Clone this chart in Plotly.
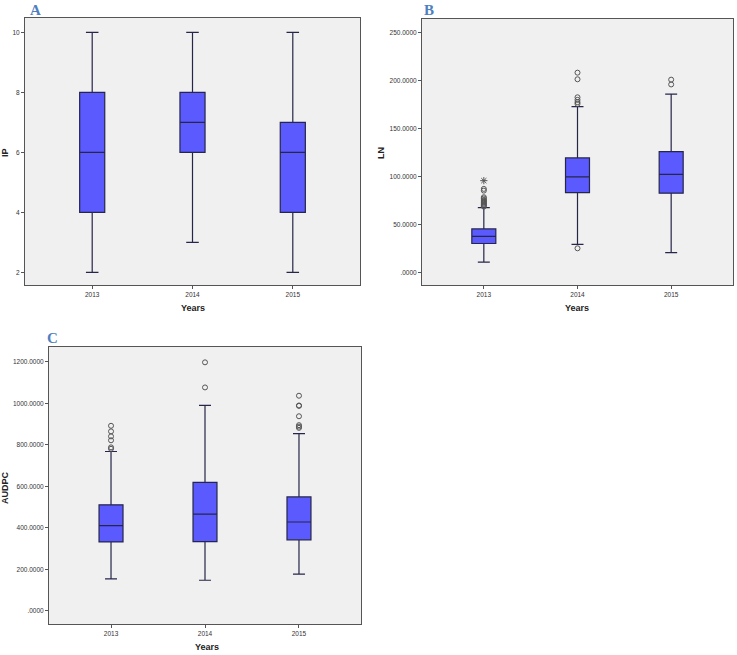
import plotly.graph_objects as go

W, H = 737, 655

years = ["2013", "2014", "2015"]

# Panel A: IP
ip_low = [2, 3, 2]
ip_q1 = [4, 6, 4]
ip_med = [6, 7, 6]
ip_q3 = [8, 8, 7]
ip_high = [10, 10, 10]

# Panel B: LN
ln_low = [10.6, 29.2, 20.5]
ln_q1 = [30.0, 83.1, 82.5]
ln_med = [37.4, 99.5, 102.1]
ln_q3 = [45.2, 119.3, 125.8]
ln_high = [67.4, 172.9, 185.8]
ln_out_x = ["2013"] * 12 + ["2014"] * 7 + ["2015"] * 2
ln_out_y = [68.5, 69.5, 70.5, 71.5, 72.5, 73.5, 74.5, 75.5, 77.0, 78.3, 85.2, 87.0,
            25.0, 175.7, 177.5, 179.9, 182.6, 201.4, 208.3,
            196.0, 201.0]
ln_ext_x = ["2013"]
ln_ext_y = [95.6]

# Panel C: AUDPC
au_low = [154, 147, 177]
au_q1 = [332, 333, 342]
au_med = [410, 466, 428]
au_q3 = [511, 619, 549]
au_high = [768, 990, 854]
au_out_x = ["2013"] * 6 + ["2014"] * 2 + ["2015"] * 7
au_out_y = [781, 788, 822, 841, 865, 892,
            1077, 1198,
            882, 888, 895, 938, 988, 990, 1037]

ln_ticks = [0, 50, 100, 150, 200, 250]
ln_ticktext = [".0000", "50.0000", "100.0000", "150.0000", "200.0000", "250.0000"]
au_ticks = [0, 200, 400, 600, 800, 1000, 1200]
au_ticktext = [".0000", "200.0000", "400.0000", "600.0000", "800.0000", "1000.0000", "1200.0000"]
ip_ticks = [2, 4, 6, 8, 10]
ip_ticktext = ["2", "4", "6", "8", "10"]

FILL = "#5a5aff"
LINE = "#26264a"
OUT = "#555555"

fig = go.Figure()

def add_box(ax, low, q1, med, q3, high, width):
    fig.add_trace(go.Box(
        x=years, q1=q1, median=med, q3=q3, lowerfence=low, upperfence=high,
        width=width, whiskerwidth=0.5, fillcolor=FILL,
        line=dict(color=LINE, width=1.2), boxpoints=False,
        xaxis="x" + ax, yaxis="y" + ax, showlegend=False, hoverinfo="skip",
    ))

add_box("", ip_low, ip_q1, ip_med, ip_q3, ip_high, 0.25)
add_box("2", ln_low, ln_q1, ln_med, ln_q3, ln_high, 0.256)
add_box("3", au_low, au_q1, au_med, au_q3, au_high, 0.255)

def add_out(ax, xs, ys, symbol="circle-open", size=5):
    fig.add_trace(go.Scatter(
        x=xs, y=ys, mode="markers",
        marker=dict(symbol=symbol, size=size, color=OUT, line=dict(color=OUT, width=1)),
        xaxis="x" + ax, yaxis="y" + ax, showlegend=False, hoverinfo="skip",
    ))

add_out("2", ln_out_x, ln_out_y)
add_out("2", ln_ext_x, ln_ext_y, symbol="asterisk-open", size=6)
add_out("3", au_out_x, au_out_y)

def px_x(a, b):
    return [a / W, b / W]

def px_y(top, bottom):
    return [1 - bottom / H, 1 - top / H]

tickfont = dict(family="Liberation Sans, Arial, sans-serif", size=6.5, color="#333333")
axis_common = dict(showline=True, linecolor="#555555", linewidth=1, mirror=True,
                   ticks="outside", ticklen=3, tickcolor="#555555", showgrid=False,
                   zeroline=False, tickfont=tickfont)

fig.update_layout(
    width=W, height=H,
    margin=dict(l=0, r=0, t=0, b=0),
    paper_bgcolor="white",
    plot_bgcolor="#f0f0f0",
    xaxis=dict(domain=px_x(25, 360), anchor="y", type="category",
               categoryorder="array", categoryarray=years, range=[-0.67, 2.67], **axis_common),
    yaxis=dict(domain=px_y(18, 285), anchor="x", range=[1.58, 10.48],
               tickvals=ip_ticks, ticktext=ip_ticktext, **axis_common),
    xaxis2=dict(domain=px_x(422, 733), anchor="y2", type="category",
                categoryorder="array", categoryarray=years, range=[-0.66, 2.66], **axis_common),
    yaxis2=dict(domain=px_y(19, 285), anchor="x2", range=[-13.3, 264.3],
                tickvals=ln_ticks, ticktext=ln_ticktext, **axis_common),
    xaxis3=dict(domain=px_x(49, 361), anchor="y3", type="category",
                categoryorder="array", categoryarray=years, range=[-0.66, 2.66], **axis_common),
    yaxis3=dict(domain=px_y(347, 624), anchor="x3", range=[-64, 1272],
                tickvals=au_ticks, ticktext=au_ticktext, **axis_common),
)

titlefont = dict(family="Liberation Sans, Arial, sans-serif", size=9, color="#222222")
labelfont = dict(family="Liberation Serif, Times New Roman, serif", size=15, color="#4f7fc0")

def ann(text, x, y, font, angle=0, yanchor="middle"):
    fig.add_annotation(text=text, x=x / W, y=1 - y / H, xref="paper", yref="paper",
                       showarrow=False, font=font, textangle=angle,
                       xanchor="center", yanchor=yanchor)

ann("<b>Years</b>", 193, 308, titlefont)
ann("<b>Years</b>", 577, 308, titlefont)
ann("<b>Years</b>", 207, 647, titlefont)
ann("<b>IP</b>", 5, 153, titlefont, -90)
ann("<b>LN</b>", 381, 153, titlefont, -90)
ann("<b>AUDPC</b>", 5, 488, titlefont, -90)
ann("<b>A</b>", 35, 0, labelfont, yanchor="top")
ann("<b>B</b>", 429, 0, labelfont, yanchor="top")
ann("<b>C</b>", 52, 328, labelfont, yanchor="top")

fig.write_html("out.html",
               config={"displayModeBar": False},
               post_script="document.body.style.margin='0px';document.body.style.overflow='hidden';")
